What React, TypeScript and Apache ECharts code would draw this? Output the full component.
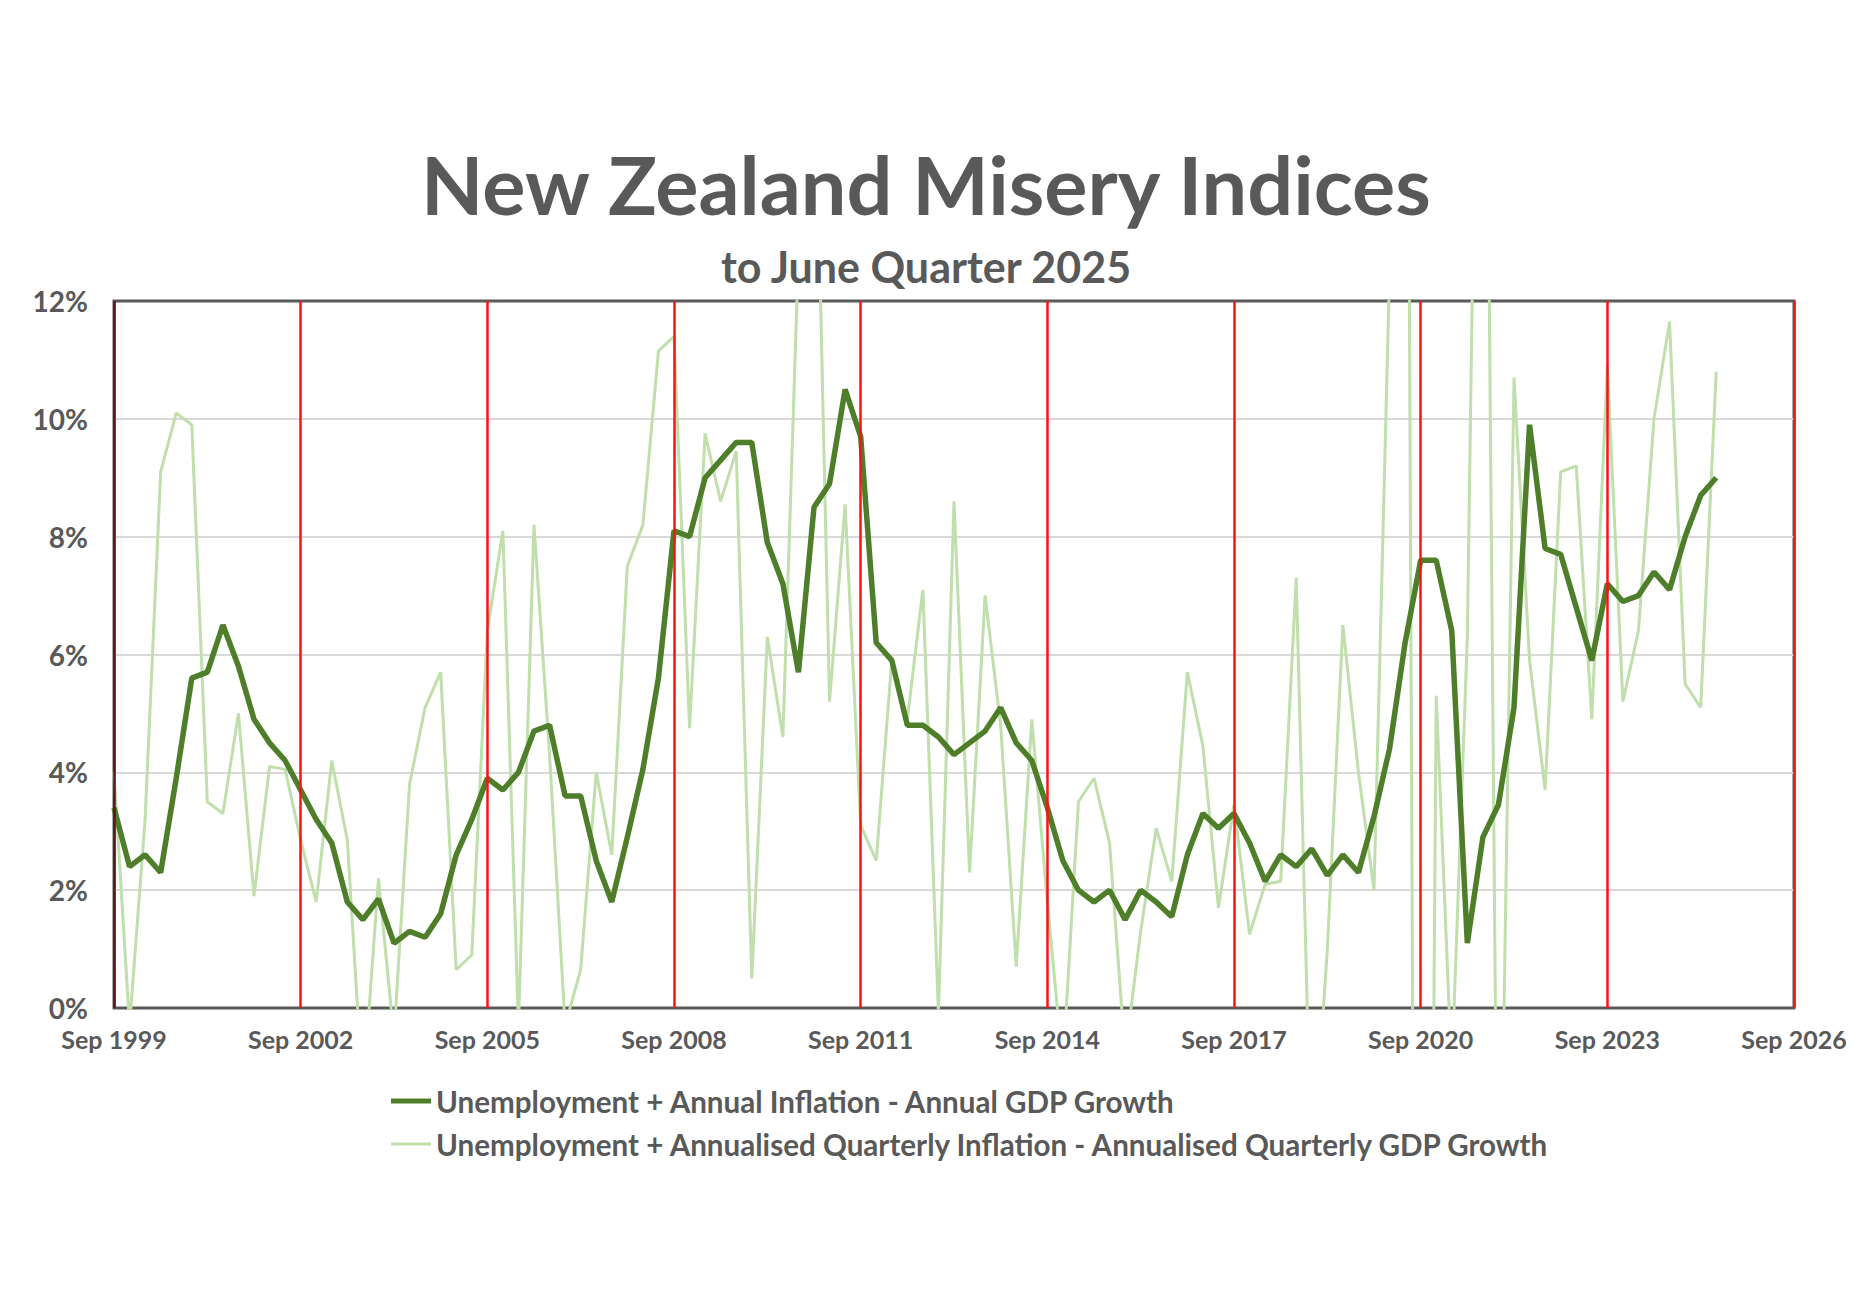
import React, { useEffect, useRef } from "react";
import * as echarts from "echarts";

// Quarter labels, Sep 1999 .. Sep 2026
const quarterMonths = ["Mar", "Jun", "Sep", "Dec"];
const categories: string[] = [];
for (let y = 1999; y <= 2026; y++) {
  for (let q = 0; q < 4; q++) {
    if (y === 1999 && q < 2) continue;
    if (y === 2026 && q > 2) continue;
    categories.push(`${quarterMonths[q]} ${y}`);
  }
}

// Red marker lines every three years
const markerQuarters = [
  "Sep 1999", "Sep 2002", "Sep 2005", "Sep 2008", "Sep 2011",
  "Sep 2014", "Sep 2017", "Sep 2020", "Sep 2023", "Sep 2026",
];

const seriesNames = [
  "Unemployment + Annual Inflation - Annual GDP Growth",
  "Unemployment + Annualised Quarterly Inflation - Annualised Quarterly GDP Growth",
];

// Unemployment + annual inflation - annual GDP growth (%), Sep 1999 .. Jun 2025
const annualMisery = [
  3.4, 2.4, // 1999
  2.6, 2.3, 3.9, 5.6, // 2000
  5.7, 6.5, 5.8, 4.9, // 2001
  4.5, 4.2, 3.7, 3.2, // 2002
  2.8, 1.8, 1.5, 1.85, // 2003
  1.1, 1.3, 1.2, 1.6, // 2004
  2.6, 3.2, 3.9, 3.7, // 2005
  4.0, 4.7, 4.8, 3.6, // 2006
  3.6, 2.5, 1.8, 2.9, // 2007
  4.05, 5.6, 8.1, 8.0, // 2008
  9.0, 9.3, 9.6, 9.6, // 2009
  7.9, 7.2, 5.7, 8.5, // 2010
  8.9, 10.5, 9.7, 6.2, // 2011
  5.9, 4.8, 4.8, 4.6, // 2012
  4.3, 4.5, 4.7, 5.1, // 2013
  4.5, 4.2, 3.4, 2.5, // 2014
  2.0, 1.8, 2.0, 1.5, // 2015
  2.0, 1.8, 1.55, 2.6, // 2016
  3.3, 3.05, 3.3, 2.8, // 2017
  2.15, 2.6, 2.4, 2.7, // 2018
  2.25, 2.6, 2.3, 3.25, // 2019
  4.4, 6.2, 7.6, 7.6, // 2020
  6.4, 1.1, 2.9, 3.45, // 2021
  5.1, 9.9, 7.8, 7.7, // 2022
  6.8, 5.9, 7.2, 6.9, // 2023
  7.0, 7.4, 7.1, 8.0, // 2024
  8.7, 9.0, // 2025
];

// Unemployment + annualised quarterly inflation - annualised quarterly GDP growth (%)
const quarterlyMisery = [
  4.0, -0.3, // 1999
  3.2, 9.1, 10.1, 9.9, // 2000
  3.5, 3.3, 5.0, 1.9, // 2001
  4.1, 4.05, 2.85, 1.8, // 2002
  4.2, 2.85, -1.5, 2.2, // 2003
  -0.5, 3.8, 5.1, 5.7, // 2004
  0.65, 0.9, 6.4, 8.1, // 2005
  -0.3, 8.2, 4.3, -0.3, // 2006
  0.65, 4.0, 2.6, 7.5, // 2007
  8.2, 11.15, 11.4, 4.75, // 2008
  9.75, 8.6, 9.45, 0.5, // 2009
  6.3, 4.6, 12.8, 17.0, // 2010
  5.2, 8.55, 3.1, 2.5, // 2011
  5.9, 4.9, 7.1, -0.1, // 2012
  8.6, 2.3, 7.0, 4.8, // 2013
  0.7, 4.9, 1.8, -1.0, // 2014
  3.5, 3.9, 2.8, -0.8, // 2015
  1.3, 3.05, 2.15, 5.7, // 2016
  4.45, 1.7, 3.45, 1.25, // 2017
  2.1, 2.15, 7.3, -3.0, // 2018
  1.0, 6.5, 4.0, 2.0, // 2019
  12.5, 28.0, -30.0, 5.3, // 2020
  -1.1, 6.3, 24.7, -6.0, // 2021
  10.7, 5.9, 3.7, 9.1, // 2022
  9.2, 4.9, 10.9, 5.2, // 2023
  6.4, 10.0, 11.65, 5.5, // 2024
  5.1, 10.8, // 2025
];

const titleText = "New Zealand Misery Indices";
const subtitleText = "to June Quarter 2025";

const DARK = "#4f7e2b";
const LIGHT = "#c0dfac";
const TEXT = "#595959";
const FONT = "Lato, 'Open Sans', sans-serif";

export default function App() {
  const ref = useRef<HTMLDivElement>(null);

  useEffect(() => {
    if (!ref.current) return;
    const chart = echarts.init(ref.current, undefined, { renderer: "svg" });
    const markData = markerQuarters.map((q, i) => ({
      xAxis: q,
      lineStyle: { color: i === 0 ? "#5a1414" : "#ff1010", width: 2.5, type: "solid" },
    }));
    chart.setOption({
      animation: false,
      backgroundColor: "#ffffff",
      graphic: [
        {
          type: "text",
          x: 926,
          y: 183,
          style: {
            text: titleText,
            fill: TEXT,
            font: `bold 81px ${FONT}`,
            textAlign: "center",
            textVerticalAlign: "middle",
          },
        },
        {
          type: "text",
          x: 926,
          y: 266,
          style: {
            text: subtitleText,
            fill: TEXT,
            font: `bold 43px ${FONT}`,
            textAlign: "center",
            textVerticalAlign: "middle",
          },
        },
      ],
      grid: {
        left: 114,
        right: 76,
        top: 301,
        bottom: 284,
        show: true,
        borderColor: "#595959",
        borderWidth: 3,
        backgroundColor: "transparent",
      },
      legend: [
        {
          data: [seriesNames[0]],
          left: 391,
          top: 1086,
          padding: 0,
          icon: "rect",
          itemWidth: 40,
          itemHeight: 5,
          textStyle: { color: TEXT, fontSize: 29.6, fontWeight: "bold", fontFamily: FONT },
        },
        {
          data: [seriesNames[1]],
          left: 391,
          top: 1129,
          padding: 0,
          icon: "rect",
          itemWidth: 40,
          itemHeight: 3,
          textStyle: { color: TEXT, fontSize: 29.6, fontWeight: "bold", fontFamily: FONT },
        },
      ],
      xAxis: {
        type: "category",
        data: categories,
        boundaryGap: false,
        axisLine: { show: false },
        axisTick: { show: false },
        splitLine: { show: false },
        axisLabel: {
          interval: (index: number) => index % 12 === 0,
          color: TEXT,
          fontSize: 25,
          fontWeight: "bold",
          fontFamily: FONT,
          margin: 18,
        },
      },
      yAxis: {
        type: "value",
        min: 0,
        max: 12,
        interval: 2,
        axisLine: { show: false },
        axisTick: { show: false },
        splitLine: {
          show: true,
          showMinLine: false,
          showMaxLine: false,
          lineStyle: { color: "#d9d9d9", width: 2 },
        },
        axisLabel: {
          formatter: "{value}%",
          color: TEXT,
          fontSize: 28,
          fontWeight: "bold",
          fontFamily: FONT,
          margin: 26,
        },
      },
      series: [
        {
          name: "markers",
          type: "line",
          data: [],
          z: 1,
          silent: true,
          markLine: {
            silent: true,
            symbol: ["none", "none"],
            label: { show: false },
            animation: false,
            data: markData,
          },
        },
        {
          name: seriesNames[1],
          type: "line",
          data: quarterlyMisery,
          showSymbol: false,
          symbol: "none",
          clip: true,
          z: 2,
          color: LIGHT,
          lineStyle: { color: LIGHT, width: 3 },
        },
        {
          name: seriesNames[0],
          type: "line",
          data: annualMisery,
          showSymbol: false,
          symbol: "none",
          clip: true,
          z: 3,
          color: DARK,
          lineStyle: { color: DARK, width: 5.5 },
        },
      ],
    });
    return () => chart.dispose();
  }, []);

  return (
    <div
      ref={ref}
      style={{ position: "absolute", left: 0, top: 0, width: 1870, height: 1292, background: "#fff" }}
    />
  );
}
